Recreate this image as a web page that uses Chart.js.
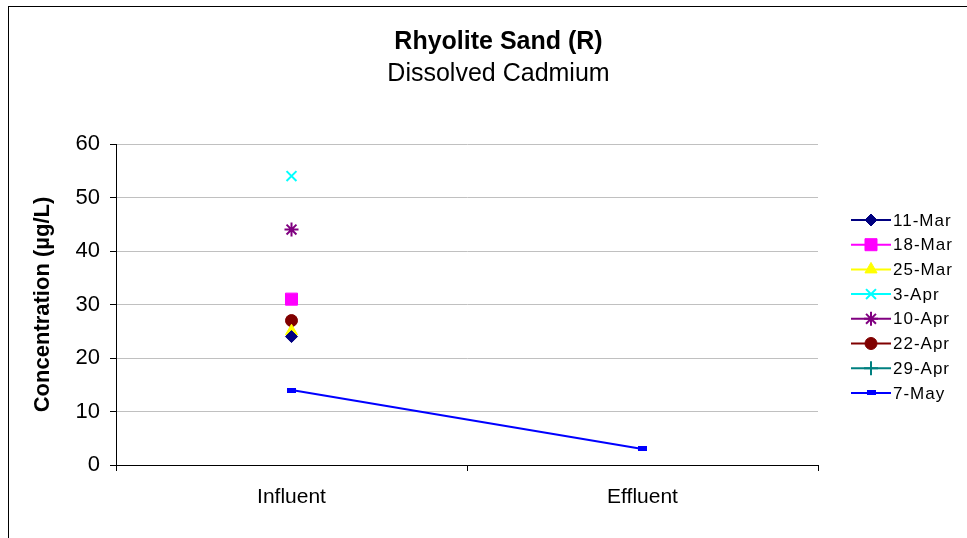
<!DOCTYPE html>
<html>
<head>
<meta charset="utf-8">
<script src="https://cdn.jsdelivr.net/npm/chart.js@4.4.0/dist/chart.umd.min.js"></script>
<style>
  html, body { margin: 0; padding: 0; background: #fff; }
  #wrap { width: 967px; height: 538px; position: relative; }
</style>
</head>
<body>
<div id="wrap"><canvas id="chart" width="967" height="538"></canvas></div>
<script>
// 数据
const categories = ['Influent', 'Effluent'];
const seriesNames = ['11-Mar', '18-Mar', '25-Mar', '3-Apr', '10-Apr', '22-Apr', '29-Apr', '7-May'];
const mar11 = [24, null];
const mar18 = [31, null];
const mar25 = [25, null];
const apr3 = [54, null];
const apr10 = [44, null];
const apr22 = [27, null];
const apr29 = [null, null];
const may7 = [14, 3];
const yTicks = [0, 10, 20, 30, 40, 50, 60];

const FONT = '"Liberation Sans", Arial, sans-serif';

// 7-May 的小方块标记
const dash = document.createElement('canvas');
dash.width = 9; dash.height = 5;
const dctx = dash.getContext('2d');
dctx.fillStyle = '#0000FF';
dctx.fillRect(0, 0, 9, 5);

const styles = [
    { color: '#000080', style: 'rectRot', radius: 6, border: 1 },
    { color: '#FF00FF', style: 'rect', radius: 8.5, border: 1 },
    { color: '#FFFF00', style: 'triangle', radius: 7, border: 1 },
    { color: '#00FFFF', style: 'crossRot', radius: 7, border: 2 },
    { color: '#800080', style: 'star', radius: 7, border: 2 },
    { color: '#800000', style: 'circle', radius: 6, border: 1 },
    { color: '#008080', style: 'cross', radius: 7, border: 2 },
    { color: '#0000FF', style: dash, radius: 5, border: 1 }
];
const values = [mar11, mar18, mar25, apr3, apr10, apr22, apr29, may7];

const datasets = seriesNames.map((name, i) => ({
    label: name,
    data: values[i],
    borderColor: styles[i].color,
    backgroundColor: styles[i].color,
    borderWidth: 2,
    pointStyle: styles[i].style,
    pointRadius: styles[i].radius,
    pointHoverRadius: styles[i].radius,
    pointBorderWidth: styles[i].border,
    pointBorderColor: styles[i].color,
    pointBackgroundColor: styles[i].color,
    tension: 0,
    spanGaps: false
}));

// 外框 + 右侧图例
const framePlugin = {
    id: 'frame',
    beforeDraw(chart) {
        const ctx = chart.ctx;
        ctx.save();
        ctx.fillStyle = '#fff';
        ctx.fillRect(0, 0, chart.width, chart.height);
        ctx.strokeStyle = '#000';
        ctx.lineWidth = 1;
        ctx.strokeRect(8.5, 6.5, 1000, 600);
        ctx.restore();
    },
    afterDraw(chart) {
        const ctx = chart.ctx;
        ctx.save();
        ctx.font = '17px ' + FONT;
        ctx.letterSpacing = '1px';
        ctx.textBaseline = 'middle';
        ctx.textAlign = 'left';
        chart.data.datasets.forEach((ds, i) => {
            const y = 220 + i * 24.7;
            ctx.strokeStyle = ds.borderColor;
            ctx.lineWidth = 2;
            ctx.beginPath();
            ctx.moveTo(851, y);
            ctx.lineTo(891, y);
            ctx.stroke();
            ctx.fillStyle = ds.pointBackgroundColor;
            ctx.strokeStyle = ds.pointBorderColor;
            ctx.lineWidth = ds.pointBorderWidth;
            Chart.helpers.drawPoint(ctx, {
                pointStyle: ds.pointStyle,
                radius: ds.pointRadius,
                borderWidth: ds.pointBorderWidth,
                rotation: 0
            }, 871, y);
            ctx.fillStyle = '#000';
            ctx.fillText(ds.label, 893, y + 1);
        });
        ctx.restore();
    }
};

const ctx = document.getElementById('chart').getContext('2d');
new Chart(ctx, {
    type: 'line',
    data: { labels: categories, datasets: datasets },
    options: {
        responsive: false,
        animation: false,
        layout: { padding: { left: 30, right: 0, top: 27, bottom: 0 } },
        scales: {
            x: {
                offset: true,
                grid: {
                    offset: true,
                    drawOnChartArea: false,
                    drawTicks: true,
                    tickLength: 6,
                    color: '#000'
                },
                border: { color: '#000', width: 1 },
                ticks: {
                    color: '#000',
                    padding: 14,
                    font: { family: FONT, size: 21 }
                },
                afterFit: scale => { scale.height = 538 - 465; }
            },
            y: {
                min: 0,
                max: 60,
                afterBuildTicks: scale => { scale.ticks = yTicks.map(v => ({ value: v })); },
                grid: {
                    color: c => (c.tick && c.tick.value === 0) ? '#000' : '#c0c0c0',
                    tickColor: '#000',
                    tickLength: 6
                },
                border: { color: '#000', width: 1 },
                ticks: {
                    color: '#000',
                    padding: 10,
                    font: { family: FONT, size: 22 }
                },
                title: {
                    display: true,
                    text: 'Concentration (µg/L)',
                    color: '#000',
                    padding: { top: 0, bottom: 6 },
                    font: { family: FONT, size: 22, weight: 'bold' }
                },
                afterFit: scale => { scale.width = 116 - 30; }
            },
            // 右侧留白给图例
            yRight: {
                position: 'right',
                min: 0,
                max: 60,
                grid: { drawOnChartArea: false, drawTicks: false },
                border: { display: false },
                ticks: { display: false },
                afterFit: scale => { scale.width = 967 - 818; }
            }
        },
        plugins: {
            legend: { display: false },
            tooltip: { enabled: false },
            title: {
                display: true,
                text: 'Rhyolite Sand (R)',
                color: '#000',
                padding: { top: 0, bottom: 2 },
                font: { family: FONT, size: 25, weight: 'bold' }
            },
            subtitle: {
                display: true,
                text: 'Dissolved Cadmium',
                color: '#000',
                padding: { top: 0, bottom: 55 },
                font: { family: FONT, size: 25 }
            }
        }
    },
    plugins: [framePlugin]
});
</script>
</body>
</html>
